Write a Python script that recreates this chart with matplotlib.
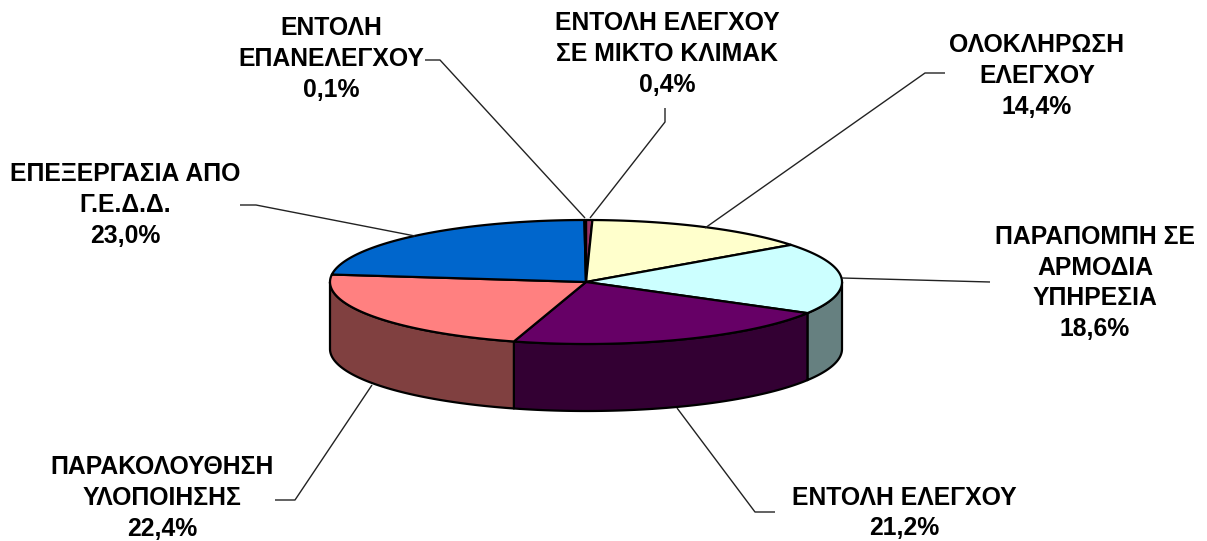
import numpy as np
import matplotlib
matplotlib.use('Agg')
import matplotlib.pyplot as plt
from matplotlib.patches import Polygon

plt.rcParams['font.family'] = ['Liberation Sans', 'DejaVu Sans']

# dados
categorias = ['ΕΝΤΟΛΗ ΕΛΕΓΧΟΥ\nΣΕ ΜΙΚΤΟ ΚΛΙΜΑΚ', 'ΟΛΟΚΛΗΡΩΣΗ\nΕΛΕΓΧΟΥ',
              'ΠΑΡΑΠΟΜΠΗ ΣΕ\nΑΡΜΟΔΙΑ\nΥΠΗΡΕΣΙΑ', 'ΕΝΤΟΛΗ ΕΛΕΓΧΟΥ',
              'ΠΑΡΑΚΟΛΟΥΘΗΣΗ\nΥΛΟΠΟΙΗΣΗΣ', 'ΕΠΕΞΕΡΓΑΣΙΑ ΑΠΟ\nΓ.Ε.Δ.Δ.',
              'ΕΝΤΟΛΗ\nΕΠΑΝΕΛΕΓΧΟΥ']
valores = [0.4, 14.4, 18.6, 21.2, 22.4, 23.0, 0.1]
cores = ['#993366', '#FFFFCC', '#CCFFFF', '#660066', '#FF8080', '#0066CC', '#CCCCFF']
cores_lado = ['#4D1A33', '#808066', '#668080', '#330033', '#804040', '#003366', '#666680']

# posicao dos rotulos e das linhas guia (pixels)
pos_rotulos = [(667, 54), (1037, 76), (1095, 283), (904, 513), (162, 498), (125, 205), (331, 59)]
linhas_guia = [[(665, 108), (665, 122), (590, 218)],
               [(945, 73), (925, 73), (705, 228)],
               [(842, 278), (990, 282)],
               [(677, 408), (755, 512), (775, 512)],
               [(372, 385), (295, 500), (275, 500)],
               [(240, 205), (256, 205), (415, 236)],
               [(425, 60), (440, 60), (585, 218)]]

cx, cy, rx, ry, altura = 586, 282, 256, 62, 67


def arco(a0, a1, dy=0):
    # angulo medido a partir do topo, sentido horario
    t = np.linspace(a0, a1, max(2, int(abs(a1 - a0) * 2) + 2))
    return np.column_stack([cx + rx * np.sin(np.radians(t)),
                            cy - ry * np.cos(np.radians(t)) + dy])


fig = plt.figure(figsize=(12.07, 5.41), dpi=100)
ax = fig.add_axes([0, 0, 1, 1])
ax.set_xlim(0, 1207)
ax.set_ylim(541, 0)
ax.axis('off')

limites = np.concatenate([[0], np.cumsum(valores)]) / sum(valores) * 360

# lateral (so a metade da frente aparece)
for i in range(len(valores)):
    a0 = max(limites[i], 90)
    a1 = min(limites[i + 1], 270)
    if a1 <= a0:
        continue
    pts = np.vstack([arco(a0, a1), arco(a0, a1, altura)[::-1]])
    ax.add_patch(Polygon(pts, closed=True, fc=cores_lado[i], ec='black', lw=1.6, joinstyle='round'))

# topo
for i in range(len(valores)):
    pts = np.vstack([[(cx, cy)], arco(limites[i], limites[i + 1])])
    ax.add_patch(Polygon(pts, closed=True, fc=cores[i], ec='black', lw=1.6, joinstyle='round'))

for linha in linhas_guia:
    xs, ys = zip(*linha)
    ax.plot(xs, ys, color='#222222', lw=1.0, solid_capstyle='butt')

for cat, val, (x, y) in zip(categorias, valores, pos_rotulos):
    txt = cat + '\n' + f'{val:.1f}'.replace('.', ',') + '%'
    ax.text(x, y, txt, ha='center', va='center', ma='center', fontsize=17.8,
            fontweight='bold', color='black', linespacing=1.36)

fig.savefig('out.png', dpi=100, facecolor='white')
